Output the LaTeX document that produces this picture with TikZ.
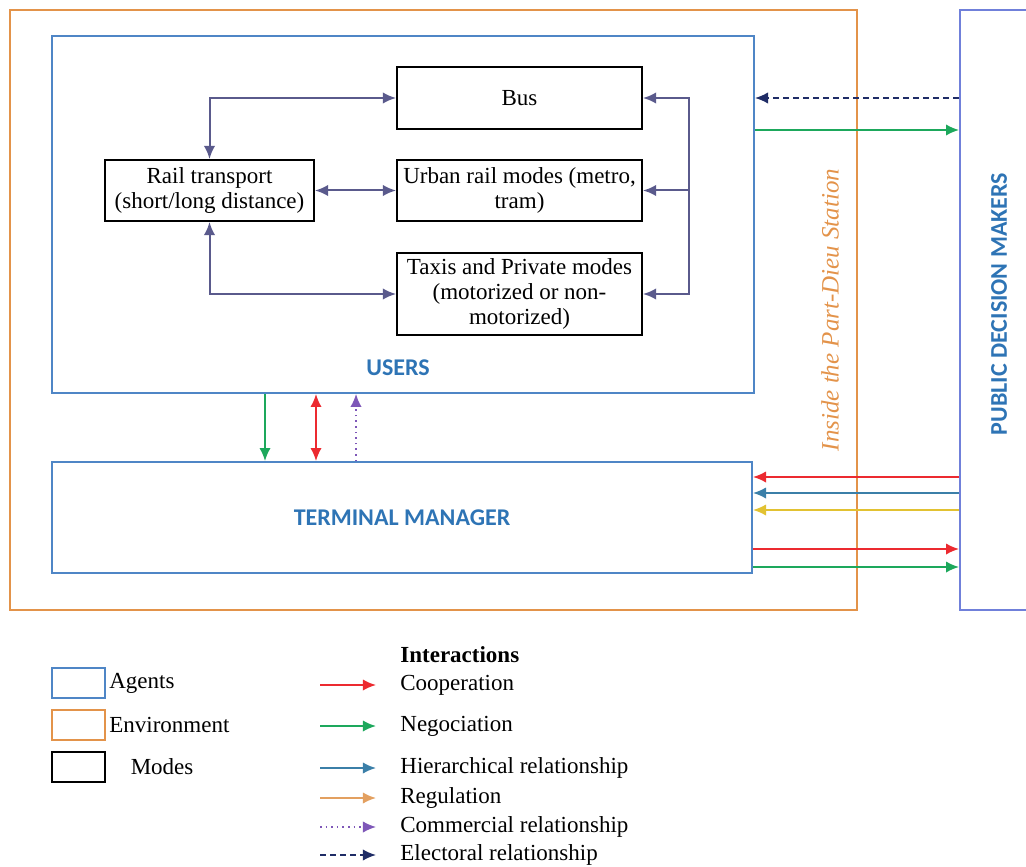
\documentclass[tikz,border=0pt]{standalone}
\usepackage{fontspec}
\setmainfont{Liberation Serif}
\newfontfamily\etiq{Carlito}
\usepackage{tikz}
\usetikzlibrary{arrows.meta,positioning,calc}
\definecolor{agente}{HTML}{4F86C6}
\definecolor{decisor}{HTML}{7080DA}
\definecolor{entorno}{HTML}{E3934A}
\definecolor{modos}{HTML}{5A5A8C}
\definecolor{coop}{HTML}{EC2A30}
\definecolor{nego}{HTML}{1DA85C}
\definecolor{jerar}{HTML}{3B7FA8}
\definecolor{regul}{HTML}{E2C232}
\definecolor{regulley}{HTML}{E3A060}
\definecolor{comer}{HTML}{7E57B8}
\definecolor{elect}{HTML}{1F2C66}
\definecolor{rotulo}{HTML}{2E74B5}

\begin{document}
\begin{tikzpicture}[x=0.5pt,y=-0.5pt,font=\fontsize{11.5}{12.5}\selectfont,
  >={Latex[length=2.3mm,width=2mm]},
  modo/.style={draw=black,line width=1pt,align=center,minimum width=122.5pt,inner sep=1.5pt},
  agbox/.style={draw=agente,line width=0.9pt},
  rot/.style={font=\etiq\bfseries\fontsize{12}{14}\selectfont,text=rotulo},
  enlace/.style={line width=1pt,modos},
  fcoop/.style={line width=1pt,coop},
  fnego/.style={line width=1pt,nego},
  fjerar/.style={line width=1pt,jerar},
  fregul/.style={line width=1pt,regul},
  fcomer/.style={line width=0.8pt,comer,dotted},
  felect/.style={line width=0.9pt,elect,dash pattern=on 3pt off 2pt},
  ley/.style={anchor=west,inner sep=0pt}]
\useasboundingbox (0,0) rectangle (1026,866);
% environment and agents
\node[draw=entorno,line width=0.9pt,minimum width=423.5pt,minimum height=300pt] (env) at (433.5,310) {};
\node[font=\itshape\fontsize{12.5}{14}\selectfont,text=entorno,rotate=90] (station) at (830,310) {Inside the Part-Dieu Station};
\node[agbox,minimum width=351pt,minimum height=178.5pt] (users) at (403,214.5) {};
\node[rot] (ulbl) at (398,368) {USERS};
\node[agbox,rot,minimum width=350pt,minimum height=55.5pt] (tm) at (402,517.5) {TERMINAL MANAGER};
\node[draw=decisor,line width=0.9pt,minimum width=36pt,minimum height=300pt] (pdm) at (996,310) {};
\node[rot,rotate=90] (plbl) at (999,304) {PUBLIC DECISION MAKERS};
% modes
\node[modo,minimum height=31pt] (bus) at (519.5,98) {Bus};
\node[modo,minimum height=30.5pt] (urban) at (519.5,190.5) {Urban rail modes (metro,\\tram)};
\node[modo,minimum height=41pt] (taxi) at (519.5,294) {Taxis and Private modes\\(motorized or non-\\motorized)};
\node[modo,minimum width=104.5pt,minimum height=30.5pt] (rail) at (209.5,190.5) {Rail transport\\(short/long distance)};
\draw[enlace,<->] (rail.north) |- (bus.west);
\draw[enlace,<->] (rail) -- (urban);
\draw[enlace,<->] (rail.south) |- (taxi.west);
\draw[enlace,<->] (bus.east) -- ++(46,0) coordinate (r1) |- (taxi.east);
\draw[enlace,<-] (urban.east) -- (urban.east -| r1);
% users / terminal manager
\draw[fnego,->] (users.south -| 265,0) -- (tm.north -| 265,0);
\draw[fcoop,<->] (users.south -| 316,0) -- (tm.north -| 316,0);
\draw[fcomer,->] (tm.north -| 356,0) -- (users.south -| 356,0);
% public decision makers
\draw[felect,->] (pdm.west |- 0,98) -- (users.east |- 0,98);
\draw[fnego,->] (users.east |- 0,130) -- (pdm.west |- 0,130);
\draw[fcoop,->] (pdm.west |- 0,477) -- (tm.east |- 0,477);
\draw[fjerar,->] (pdm.west |- 0,493) -- (tm.east |- 0,493);
\draw[fregul,->] (pdm.west |- 0,510) -- (tm.east |- 0,510);
\draw[fcoop,->] (tm.east |- 0,549) -- (pdm.west |- 0,549);
\draw[fnego,->] (tm.east |- 0,567) -- (pdm.west |- 0,567);
% legend
\node[agbox,minimum width=26.5pt,minimum height=15pt] (lagent) at (78.5,683) {};
\node[ley,right=1.5pt of lagent] (tagent) {Agents};
\node[draw=entorno,line width=0.9pt,minimum width=26.5pt,minimum height=15pt] (lenv) at (78.5,725) {};
\node[ley,right=1.5pt of lenv] (tenv) {Environment};
\node[draw=black,line width=1.4pt,minimum width=26.5pt,minimum height=15pt] (lmode) at (78.5,767) {};
\node[ley,right=12pt of lmode] (tmode) {Modes};
\node[ley,font=\bfseries\fontsize{11.5}{13}\selectfont] (tint) at (400,655) {Interactions};
\node[ley] (lcoop) at (400,685) {Cooperation};
\node[ley] (lnego) at (400,726) {Negociation};
\node[ley] (ljerar) at (400,768) {Hierarchical relationship};
\node[ley] (lregul) at (400,798) {Regulation};
\node[ley] (lcomer) at (400,827) {Commercial relationship};
\node[ley] (lelect) at (400,855) {Electoral relationship};
\draw[fcoop,->] ([xshift=-40pt]lcoop.west) -- ([xshift=-12pt]lcoop.west);
\draw[fnego,->] ([xshift=-40pt]lnego.west) -- ([xshift=-12pt]lnego.west);
\draw[fjerar,->] ([xshift=-40pt]ljerar.west) -- ([xshift=-12pt]ljerar.west);
\draw[line width=1pt,regulley,->] ([xshift=-40pt]lregul.west) -- ([xshift=-12pt]lregul.west);
\draw[fcomer,->] ([xshift=-40pt]lcomer.west) -- ([xshift=-12pt]lcomer.west);
\draw[felect,->] ([xshift=-40pt]lelect.west) -- ([xshift=-12pt]lelect.west);
\end{tikzpicture}
\end{document}
